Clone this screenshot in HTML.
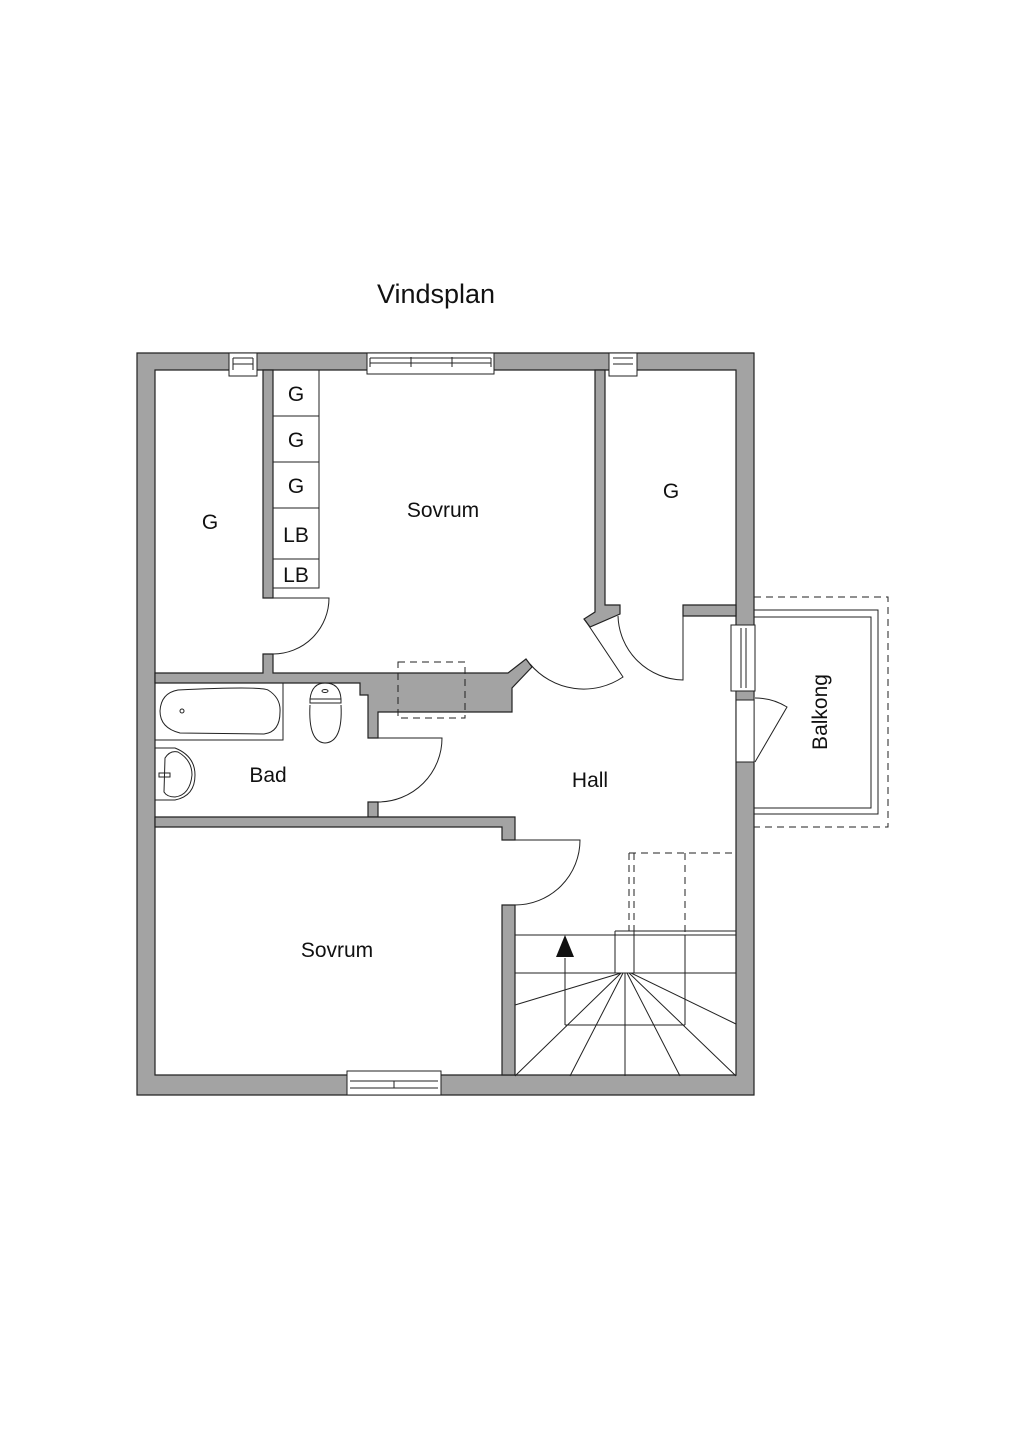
<!DOCTYPE html>
<html><head><meta charset="utf-8"><style>
html,body{margin:0;padding:0;background:#fff;}
svg{display:block;}
text{font-family:"Liberation Sans",sans-serif;fill:#111;}
</style></head><body>
<svg width="1024" height="1448" viewBox="0 0 1024 1448" xmlns="http://www.w3.org/2000/svg">
<text x="436" y="303" font-size="27" text-anchor="middle">Vindsplan</text>
<g fill="#a3a3a3" stroke="#222" stroke-width="1.2">
<path fill-rule="evenodd" d="M137 353 H754 V1095 H137 Z M155 370 V1075 H736 V370 Z"/>
<path d="M263 370 H273 V598 H263 Z"/>
<path d="M155 673 H263 V654 H273 V673 H508 L526 659 L532 667 L512 688 V712 H378 V738 H368 V695 H360 V683 H155 Z"/>
<path d="M368 802 H378 V817 H368 Z"/>
<path d="M155 817 H515 V840 H502 V827 H155 Z"/>
<path d="M502 905 H515 V1075 H502 Z"/>
<path d="M595 370 H605 V605 H620 V614 L590 627 L584 619 L595 612 Z"/>
<path d="M683 605 H736 V616 H683 Z"/>
</g>
<g fill="#fff" stroke="#222" stroke-width="1">
<rect x="229" y="353" width="28" height="23"/>
<line x1="233" y1="358" x2="253" y2="358"/><line x1="233" y1="364" x2="253" y2="364"/>
<line x1="233" y1="358" x2="233" y2="370"/><line x1="253" y1="358" x2="253" y2="370"/>
<rect x="367" y="353" width="127" height="21"/>
<line x1="370" y1="358" x2="491" y2="358"/><line x1="370" y1="363" x2="491" y2="363"/><line x1="370" y1="358" x2="370" y2="367"/><line x1="491" y1="358" x2="491" y2="367"/>
<line x1="411" y1="357" x2="411" y2="367"/><line x1="452" y1="357" x2="452" y2="367"/>
<rect x="609" y="353" width="28" height="23"/>
<line x1="613" y1="358" x2="633" y2="358"/><line x1="613" y1="364" x2="633" y2="364"/>
<rect x="347" y="1071" width="94" height="24"/>
<line x1="350" y1="1081" x2="438" y2="1081"/><line x1="350" y1="1088" x2="438" y2="1088"/><line x1="394" y1="1081" x2="394" y2="1088"/>
<rect x="731" y="625" width="24" height="66"/>
<line x1="741" y1="628" x2="741" y2="688"/><line x1="746" y1="628" x2="746" y2="688"/>
</g>
<rect x="736.6" y="700" width="17" height="62" fill="#fff"/>
<rect x="736" y="691" width="18" height="9" fill="#a3a3a3" stroke="#222"/>
<path d="M736 762 H754 V1095 M736 700 V762" stroke="#222" fill="none"/>
<g fill="none" stroke="#222" stroke-width="1">
<rect x="273" y="370" width="46" height="218"/>
<line x1="273" y1="416" x2="319" y2="416"/><line x1="273" y1="462" x2="319" y2="462"/>
<line x1="273" y1="508" x2="319" y2="508"/><line x1="273" y1="559" x2="319" y2="559"/>
<path d="M273 598 H329 A56 56 0 0 1 273 654"/>
<path d="M378 738 H442 A64 64 0 0 1 378 802"/>
<path d="M515 840 H580 A65 65 0 0 1 515 905"/>
<path d="M585 620 L623 677 A70 70 0 0 1 530 664"/>
<path d="M683 616 V680 A66 66 0 0 1 618 616"/>
<path d="M755 762 L787 707 A60 60 0 0 0 755 698"/>
<path d="M754 610 H878 V814 H754 M754 617 H871 V808 H754"/>
<path d="M754 597 H888 V827 H754" stroke-dasharray="7 5"/>
<path d="M398 662 H465 V718 H398 Z" stroke-dasharray="7 5"/>
<rect x="155" y="683" width="128" height="57"/>
<path d="M178 690 Q260 686 268 690 Q281 698 280 712 Q280 732 264 734 L180 733 Q160 728 160 711 Q161 693 178 690 Z"/>
<circle cx="182" cy="711" r="2"/>
<path d="M310 699 Q312 683 325 683 Q340 683 341 699 Z"/>
<path d="M310 699 H341 V703 H310 Z"/>
<path d="M310 705 Q308 742 325 743 Q343 742 341 705"/>
<ellipse cx="325" cy="691" rx="3" ry="1.5"/>
<path d="M155 748 H175 Q195 756 195 775 Q195 796 175 800 H155"/>
<path d="M165 758 Q170 750 178 752 Q192 760 192 775 Q190 795 175 797 Q167 797 164 792 Z"/>
<path d="M159 773 H170 V777 H159 Z"/>
<path d="M515 935 H736 M515 973 H736 M565 1025 H685 M615 931 H736 M615 931 V973 M634 931 V973 M685 935 V1025 M625 973 V1076"/>
<path d="M629 853 V931 M634 853 V931 M629 853 H736 M685 853 V935" stroke-dasharray="7 5"/>
<path d="M565 1025 V958"/>
<path d="M621 973 L515 1005 M621 973 L515 1076 M623 973 L570 1076 M627 973 L680 1076 M629 973 L736 1076 M631 973 L736 1024"/>
</g>
<polygon points="565,935 556,957 574,957" fill="#111"/>
<g font-size="21" text-anchor="middle">
<text x="296" y="401">G</text><text x="296" y="447">G</text><text x="296" y="493">G</text>
<text x="296" y="542">LB</text><text x="296" y="582">LB</text>
<text x="210" y="529">G</text>
<text x="443" y="517">Sovrum</text>
<text x="671" y="498">G</text>
<text x="268" y="782">Bad</text>
<text x="590" y="787">Hall</text>
<text x="337" y="957">Sovrum</text>
<text transform="translate(827 712) rotate(-90)">Balkong</text>
</g>
</svg>
</body></html>
